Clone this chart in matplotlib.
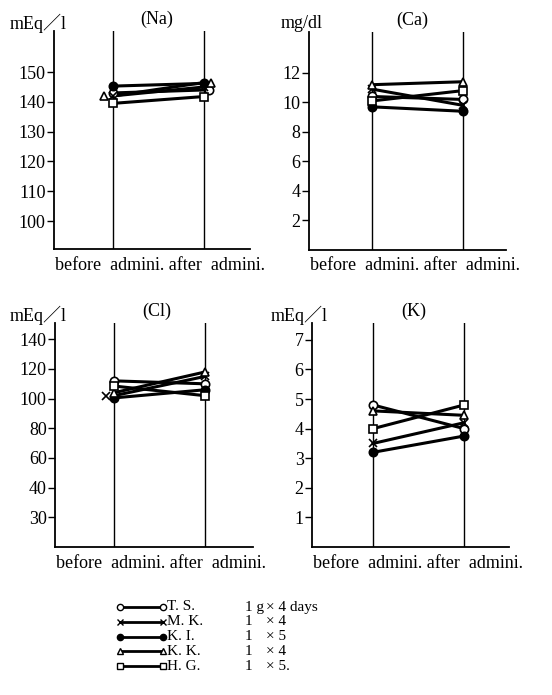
import matplotlib.pyplot as plt

W, H = 552, 695

subjects = ["T. S.", "M. K.", "K. I.", "K. K.", "H. G."]
doses = ["1 g", "1", "1", "1", "1"]
days = ["× 4 days", "× 4", "× 5", "× 4", "× 5."]

# before / after values per subject (TS, MK, KI, KK, HG)
na_before = [143.0, 142.0, 145.3, 142.0, 139.5]
na_after = [144.0, 145.0, 146.2, 146.5, 141.8]
ca_before = [10.4, 10.9, 9.7, 11.2, 10.1]
ca_after = [10.2, 9.8, 9.4, 11.4, 10.8]
cl_before = [112.0, 102.0, 100.5, 104.0, 108.5]
cl_after = [110.0, 115.0, 106.0, 118.0, 102.0]
k_before = [4.8, 3.5, 3.2, 4.6, 4.0]
k_after = [4.0, 4.2, 3.75, 4.45, 4.8]

na_ticks = [100, 110, 120, 130, 140, 150]
ca_ticks = [2, 4, 6, 8, 10, 12]
cl_ticks = [20, 40, 60, 80, 100, 120, 140]
cl_tick_labels = ["30", "40", "60", "80", "100", "120", "140"]
k_ticks = [1, 2, 3, 4, 5, 6, 7]

FONT = ["Liberation Serif", "Noto Sans CJK JP"]
plt.rcParams["font.family"] = FONT

markers = [
    dict(marker="o", mfc="white"),
    dict(marker="x", mfc="black"),
    dict(marker="o", mfc="black"),
    dict(marker="^", mfc="white"),
    dict(marker="s", mfc="white"),
]

fig = plt.figure(figsize=(W / 100, H / 100), dpi=100)


def px_axes(x0, y0, x1, y1):
    return fig.add_axes([x0 / W, 1 - y1 / H, (x1 - x0) / W, (y1 - y0) / H])


def px_text(x, y, s, **kw):
    fig.text(x / W, 1 - y / H, s, fontsize=13, va="center", **kw)


def panel(box, f0, f1, before, after, ylim, ticks, labels, unit, title, xpos, shift=None):
    ax = px_axes(*box)
    span = f1 - f0
    ax.set_xlim(-f0 / span, (1 - f0) / span)
    ax.set_ylim(*ylim)
    for s in ("top", "right"):
        ax.spines[s].set_visible(False)
    ax.spines["left"].set_linewidth(1.3)
    ax.spines["bottom"].set_linewidth(1.3)
    ax.set_xticks([])
    ax.set_yticks(ticks)
    ax.set_yticklabels(labels if labels else [str(t) for t in ticks])
    ax.tick_params(axis="y", direction="out", length=5, width=1, pad=1, labelsize=13)
    for x in (0, 1):
        ax.axvline(x, color="black", lw=1)
    shift = shift or {}
    for i in range(len(before)):
        ax.plot([0, 1], [before[i], after[i]], color="black", lw=2.2, zorder=3)
        b_dx, a_dx = shift.get(i, (0, 0))
        ax.plot([b_dx, 1 + a_dx], [before[i], after[i]], ls="none", color="black",
                mec="black", ms=6, mew=1.2, zorder=4, **markers[i])
    x0, y0, x1, y1 = box
    px_text(xpos[0], y0 - 8, unit)
    px_text(xpos[1], y0 - 12, title, ha="center")
    px_text(x0 + 1, y1 + 16, "before  admini. after  admini.")
    return ax


panel((54, 31, 250, 249), 0.301, 0.765, na_before, na_after, (90.6, 163.8),
      na_ticks, None, "mEq／l", "(Na)", (10, 157), shift={0: (0, 0.06), 3: (-0.1, 0.08)})
panel((309, 32, 506, 250), 0.320, 0.782, ca_before, ca_after, (0, 14.77),
      ca_ticks, None, "mg/dl", "(Ca)", (281, 412))
panel((55, 323, 253, 547), 0.298, 0.758, cl_before, cl_after, (0, 151),
      cl_ticks, cl_tick_labels, "mEq／l", "(Cl)", (10, 157), shift={1: (-0.09, 0)})
panel((312, 323, 509, 547), 0.310, 0.772, k_before, k_after, (0, 7.57),
      k_ticks, None, "mEq／l", "(K)", (271, 414))

# legend block
lg = fig.add_axes([0, 0, 1, 1])
lg.set_xlim(0, W)
lg.set_ylim(H, 0)
lg.axis("off")
for i, name in enumerate(subjects):
    y = 607 + i * 14.8
    lg.plot([120, 163], [y, y], color="black", lw=2)
    lg.plot([120, 163], [y, y], ls="none", color="black", mec="black", ms=4.5,
            mew=1, **markers[i])
    lg.text(167, y, name, fontsize=11, va="center")
    lg.text(245, y, doses[i], fontsize=11, va="center")
    lg.text(266, y, days[i], fontsize=11, va="center")

fig.savefig("out.png", dpi=100)
